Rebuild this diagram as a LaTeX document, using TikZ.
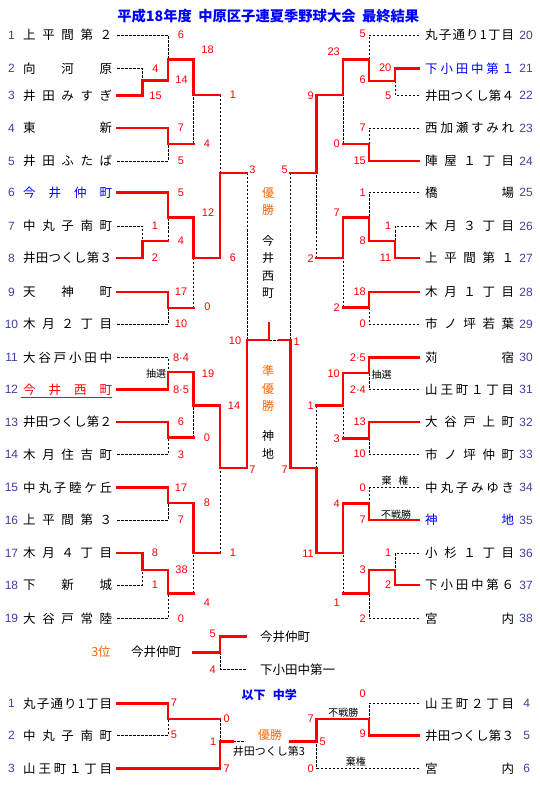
\documentclass[tikz,border=0pt]{standalone}
\usepackage{fontspec}
\setmainfont{Noto Sans CJK JP}
\newfontfamily\numfont{Liberation Sans}
\usetikzlibrary{positioning}
\definecolor{xRed}{RGB}{255,0,0}
\definecolor{xBlue}{RGB}{0,0,255}
\definecolor{xOrange}{RGB}{255,102,0}
\definecolor{xSlate}{RGB}{64,64,160}
\makeatletter
\def\team@rest#1{\ifx#1\relax\else\hfil#1\expandafter\team@rest\fi}
\def\team@first#1{#1\team@rest}
\newcommand\spreadname[1]{\hbox to 89pt{\team@first#1\relax}}
\makeatother
\tikzset{
  teamL/.style={anchor=west, inner xsep=5pt, inner ysep=0pt, text height=10.7pt, text depth=1.3pt,
                font=\fontsize{12.5}{14}\selectfont},
  teamR/.style={teamL, inner xsep=6pt},
  seed/.style={font=\numfont\fontsize{12}{14}\selectfont, text=xSlate, inner sep=0pt},
  pts/.style={font=\numfont\fontsize{11}{13}\selectfont, text=xRed, inner sep=0pt},
  ptsR/.style={pts, anchor=east},
  remark/.style={font=\fontsize{10}{12}\selectfont, inner sep=0pt},
  caption/.style={font=\fontsize{12.5}{14}\selectfont, inner sep=0pt},
  vtext/.style={align=center, font=\fontsize{12}{17.5}\selectfont, inner sep=0pt},
  win/.style={xRed, line width=2.9pt, line cap=rect},
  lose/.style={black, line width=0.9pt, dash pattern=on 2.5pt off 1.5pt},
}

\begin{document}
\begin{tikzpicture}[x=1pt, y=-1pt]
  \fill[white] (0,0) rectangle (540,786);
  \useasboundingbox (0,0) rectangle (540,786);
  \node[font=\bfseries\fontsize{14.3}{16}\selectfont, text=xBlue, inner sep=0pt] (title) at (268.3,16)
    {平成18年度\hspace{0.45em}中原区子連夏季野球大会\hspace{0.45em}最終結果};

  % left half
  \node[teamL] (L1)  at (18,35)    {\spreadname{上平間第２}};      \node[seed] (s1)  at (11.5,35)    {1};
  \node[teamL] (L2)  at (18,68.5)  {\spreadname{向河原}};          \node[seed] (s2)  at (11.5,68.5)  {2};
  \node[teamL] (L3)  at (18,95.5)  {\spreadname{井田みすぎ}};      \node[seed] (s3)  at (11.5,95.5)  {3};
  \node[teamL] (L4)  at (18,128)   {\spreadname{東新}};            \node[seed] (s4)  at (11.5,128)   {4};
  \node[teamL] (L5)  at (18,161)   {\spreadname{井田ふたば}};      \node[seed] (s5)  at (11.5,161)   {5};
  \node[teamL, text=xBlue] (L6) at (18,192.5) {\spreadname{今井仲町}}; \node[seed] (s6) at (11.5,192.5) {6};
  \node[teamL] (L7)  at (18,226)   {\spreadname{中丸子南町}};      \node[seed] (s7)  at (11.5,226)   {7};
  \node[teamL] (L8)  at (18,258)   {\spreadname{井田つくし第３}};  \node[seed] (s8)  at (11.5,258)   {8};
  \node[teamL] (L9)  at (18,292)   {\spreadname{天神町}};          \node[seed] (s9)  at (11.5,292)   {9};
  \node[teamL] (L10) at (18,324)   {\spreadname{木月２丁目}};      \node[seed] (s10) at (11.5,324)   {10};
  \node[teamL] (L11) at (18,357.5) {\spreadname{大谷戸小田中}};    \node[seed] (s11) at (11.5,357.5) {11};
  \node[teamL, text=xRed] (L12) at (18,389.5) {\spreadname{今井西町}}; \node[seed] (s12) at (11.5,389.5) {12};
  \node[teamL] (L13) at (18,422)   {\spreadname{井田つくし第２}};  \node[seed] (s13) at (11.5,422)   {13};
  \node[teamL] (L14) at (18,454.5) {\spreadname{木月住吉町}};      \node[seed] (s14) at (11.5,454.5) {14};
  \node[teamL] (L15) at (18,487.5) {\spreadname{中丸子睦ケ丘}};    \node[seed] (s15) at (11.5,487.5) {15};
  \node[teamL] (L16) at (18,520)   {\spreadname{上平間第３}};      \node[seed] (s16) at (11.5,520)   {16};
  \node[teamL] (L17) at (18,553)   {\spreadname{木月４丁目}};      \node[seed] (s17) at (11.5,553)   {17};
  \node[teamL] (L18) at (18,585)   {\spreadname{下新城}};          \node[seed] (s18) at (11.5,585)   {18};
  \node[teamL] (L19) at (18,618.5) {\spreadname{大谷戸常陸}};      \node[seed] (s19) at (11.5,618.5) {19};
  \draw[xRed, line width=0.9pt] ([xshift=2.7pt,yshift=-2pt]L12.south west) -- ([xshift=-5pt,yshift=-2pt]L12.south east);

  % right half
  \node[teamR] (R20) at (419,35)    {\spreadname{丸子通り1丁目}};  \node[seed] (s20) at (526,35)    {20};
  \node[teamR, text=xBlue] (R21) at (419,68.5) {\spreadname{下小田中第１}}; \node[seed] (s21) at (526,68.5) {21};
  \node[teamR] (R22) at (419,95.5)  {\spreadname{井田つくし第４}};  \node[seed] (s22) at (526,95.5)  {22};
  \node[teamR] (R23) at (419,128)   {\spreadname{西加瀬すみれ}};    \node[seed] (s23) at (526,128)   {23};
  \node[teamR] (R24) at (419,161)   {\spreadname{陣屋１丁目}};      \node[seed] (s24) at (526,161)   {24};
  \node[teamR] (R25) at (419,192.5) {\spreadname{橋場}};            \node[seed] (s25) at (526,192.5) {25};
  \node[teamR] (R26) at (419,226)   {\spreadname{木月３丁目}};      \node[seed] (s26) at (526,226)   {26};
  \node[teamR] (R27) at (419,258)   {\spreadname{上平間第１}};      \node[seed] (s27) at (526,258)   {27};
  \node[teamR] (R28) at (419,292)   {\spreadname{木月１丁目}};      \node[seed] (s28) at (526,292)   {28};
  \node[teamR] (R29) at (419,324)   {\spreadname{市ノ坪若葉}};      \node[seed] (s29) at (526,324)   {29};
  \node[teamR] (R30) at (419,357.5) {\spreadname{苅宿}};            \node[seed] (s30) at (526,357.5) {30};
  \node[teamR] (R31) at (419,389.5) {\spreadname{山王町１丁目}};    \node[seed] (s31) at (526,389.5) {31};
  \node[teamR] (R32) at (419,422)   {\spreadname{大谷戸上町}};      \node[seed] (s32) at (526,422)   {32};
  \node[teamR] (R33) at (419,454.5) {\spreadname{市ノ坪仲町}};      \node[seed] (s33) at (526,454.5) {33};
  \node[teamR] (R34) at (419,487.5) {\spreadname{中丸子みゆき}};    \node[seed] (s34) at (526,487.5) {34};
  \node[teamR, text=xBlue] (R35) at (419,520) {\spreadname{神地}};  \node[seed] (s35) at (526,520) {35};
  \node[teamR] (R36) at (419,553)   {\spreadname{小杉１丁目}};      \node[seed] (s36) at (526,553)   {36};
  \node[teamR] (R37) at (419,585)   {\spreadname{下小田中第６}};    \node[seed] (s37) at (526,585)   {37};
  \node[teamR] (R38) at (419,618.5) {\spreadname{宮内}};            \node[seed] (s38) at (526,618.5) {38};

  % match points, left
  \coordinate (a23) at (142.7,80.3);   \coordinate (a13) at (168,59.3);
  \coordinate (a45) at (168,144);      \coordinate (a15) at (193.7,95);
  \coordinate (a78) at (142.7,241);    \coordinate (a68) at (168,217.7);
  \coordinate (a910) at (168,308);     \coordinate (a610) at (193.7,258);
  \coordinate (a110) at (220,173);
  \coordinate (a1112) at (168,372);    \coordinate (a1314) at (168,437.7);
  \coordinate (a1114) at (193.7,405.7);
  \coordinate (a1516) at (168,503);    \coordinate (a1718) at (142.7,570);
  \coordinate (a1719) at (168,593.3);  \coordinate (a1519) at (193.7,553);
  \coordinate (a1119) at (220,468);    \coordinate (aL) at (247,340);
  % match points, right
  \coordinate (b2122) at (395,81);     \coordinate (b2022) at (369,59.3);
  \coordinate (b2324) at (369,144);    \coordinate (b2024) at (343,95);
  \coordinate (b2627) at (395,241);    \coordinate (b2527) at (369,217.7);
  \coordinate (b2829) at (369,307.3);  \coordinate (b2529) at (343,258);
  \coordinate (b2029) at (316.7,173);
  \coordinate (b3031) at (369,373);    \coordinate (b3233) at (369,438.3);
  \coordinate (b3033) at (343,405.7);
  \coordinate (b3435) at (369,503.3);  \coordinate (b3637) at (395,570);
  \coordinate (b3638) at (369,593.3);  \coordinate (b3438) at (343,553);
  \coordinate (b3038) at (316.7,468);  \coordinate (bR) at (290.7,340);
  % final
  \coordinate (fk) at (269,340);  \coordinate (fkt) at (269,323);  \coordinate (fr) at (279,340);

  % dashed: eliminated
  \draw[lose] (L1.east) -| (a13);   \draw[lose] (L2.east) -| (a23);
  \draw[lose] (L5.east) -| (a45);   \draw[lose] (L7.east) -| (a78);
  \draw[lose] (L10.east) -| (a910); \draw[lose] (L11.east) -| (a1112);
  \draw[lose] (L14.east) -| (a1314); \draw[lose] (L16.east) -| (a1516);
  \draw[lose] (L18.east) -| (a1718); \draw[lose] (L19.east) -| (a1719);
  \draw[lose] (a45 -| a15) -- (a15);     \draw[lose] (a78 -| a68) -- (a68);
  \draw[lose] (a910 -| a610) -- (a610);  \draw[lose] (a15 -| a110) -- (a110);
  \draw[lose] (a1314 -| a1114) -- (a1114); \draw[lose] (a1719 -| a1519) -- (a1519);
  \draw[lose] (a1519 -| a1119) -- (a1119); \draw[lose] (a110 -| aL) -- (aL);
  \draw[lose] (R20.west) -| (b2022); \draw[lose] (R22.west) -| (b2122);
  \draw[lose] (R23.west) -| (b2324); \draw[lose] (R25.west) -| (b2527);
  \draw[lose] (R26.west) -| (b2627); \draw[lose] (R29.west) -| (b2829);
  \draw[lose] (R31.west) -| (b3031); \draw[lose] (R33.west) -| (b3233);
  \draw[lose] (R34.west) -| (b3435); \draw[lose] (R36.west) -| (b3637);
  \draw[lose] (R38.west) -| (b3638);
  \draw[lose] (b2324 -| b2024) -- (b2024); \draw[lose] (b2829 -| b2529) -- (b2529);
  \draw[lose] (b2529 -| b2029) -- (b2029); \draw[lose] (b3233 -| b3033) -- (b3033);
  \draw[lose] (b3638 -| b3438) -- (b3438); \draw[lose] (b3033 -| b3038) -- (b3038);
  \draw[lose] (b2029 -| bR) -- (bR);
  \draw[lose] (fk) -- (fr);

  % red: winners
  \draw[win] (L3.east) -| (a23);   \draw[win] (L4.east) -| (a45);
  \draw[win] (L6.east) -| (a68);   \draw[win] (L8.east) -| (a78);
  \draw[win] (L9.east) -| (a910);  \draw[win] (L12.east) -| (a1112);
  \draw[win] (L13.east) -| (a1314); \draw[win] (L15.east) -| (a1516);
  \draw[win] (L17.east) -| (a1718);
  \draw[win] (a23) -| (a13);   \draw[win] (a13) -| (a15);
  \draw[win] (a68) -| (a610);  \draw[win] (a610) -| (a110);
  \draw[win] (a1112) -| (a1114); \draw[win] (a1114) -| (a1119);
  \draw[win] (a1516) -| (a1519); \draw[win] (a1718) -| (a1719);
  \draw[win] (a1119) -| (aL);
  \draw[win] (a45) -- (a45 -| a15);     \draw[win] (a78) -- (a78 -| a68);
  \draw[win] (a910) -- (a910 -| a610);  \draw[win] (a15) -- (a15 -| a110);
  \draw[win] (a1314) -- (a1314 -| a1114); \draw[win] (a1719) -- (a1719 -| a1519);
  \draw[win] (a1519) -- (a1519 -| a1119); \draw[win] (a110) -- (a110 -| aL);
  \draw[win] (R21.west) -| (b2122); \draw[win] (R24.west) -| (b2324);
  \draw[win] (R27.west) -| (b2627); \draw[win] (R28.west) -| (b2829);
  \draw[win] (R30.west) -| (b3031); \draw[win] (R32.west) -| (b3233);
  \draw[win] (R35.west) -| (b3435); \draw[win] (R37.west) -| (b3637);
  \draw[win] (b2122) -| (b2022); \draw[win] (b2022) -| (b2024);
  \draw[win] (b2024) -| (b2029); \draw[win] (b2627) -| (b2527);
  \draw[win] (b2527) -| (b2529); \draw[win] (b3031) -| (b3033);
  \draw[win] (b3435) -| (b3438); \draw[win] (b3637) -| (b3638);
  \draw[win] (b3438) -| (b3038); \draw[win] (b3038) -| (bR);
  \draw[win] (b2324) -- (b2324 -| b2024); \draw[win] (b2829) -- (b2829 -| b2529);
  \draw[win] (b2529) -- (b2529 -| b2029); \draw[win] (b3233) -- (b3233 -| b3033);
  \draw[win] (b3638) -- (b3638 -| b3438); \draw[win] (b3033) -- (b3033 -| b3038);
  \draw[win] (b2029) -- (b2029 -| bR);
  \draw[win] (aL) -- (fk) -- (fkt);
  \draw[win] (bR) -- (fr);

  % scores
  \foreach \x/\y/\t [count=\i] in {181/35/6, 207.5/50/18, 155.5/68.5/4, 181.5/80/14, 155.5/95.5/15,
      233/95/1, 181/128/7, 207/143.5/4, 181/161/5, 252.5/170/3, 181/192.5/5, 208/213/12,
      155/226/1, 181/241/4, 155/258/2, 233/258/6, 181/292/17, 207.5/307/0, 181/324/10,
      235/340.5/10, 181/357.5/8·4, 208/373.5/19, 181/389.5/8·5, 234/405.5/14, 181/421.5/6,
      207/437.5/0, 181/454.5/3, 252.5/470/7, 181/487.5/17, 207/503/8, 181/520/7, 155/553/8,
      233/553/1, 181.5/570/38, 155/585/1, 207/602.5/4, 181/618.5/0, 296.7/342/1,
      212.7/633.3/5, 212.7/670/4, 174/702.3/7, 174/735/5, 226.7/719/0, 226.7/768.3/7,
      213.3/741.7/1, 322.7/741.7/5}
    \node[pts] (p\i) at (\x,\y) {\t};
  \foreach \x/\y/\t [count=\i] in {391.5/68/20, 391.5/95.5/5, 391.5/226/1, 391.5/257.5/11,
      391.5/553/1, 391.5/585/2, 366/34/5, 366/80/6, 366/128/7, 366/161/15, 366/192.5/1,
      366/241/8, 366/292/18, 366/323.5/0, 366/357.5/2·5, 366/389.5/2·4, 366/421.5/13,
      366/454/10, 366/487.5/0, 366/519.5/7, 366/570/3, 366/618.5/2, 340/51.5/23, 340/144/0,
      340/213/7, 340/307.3/2, 340/374/10, 340/438.3/3, 340/503.3/4, 340/602.7/1,
      314/95.7/9, 314/259/2, 314/406/1, 314/553.3/11, 288/170/5, 288/470/7,
      366/693.3/0, 366/733.3/9, 314/718.3/7, 314/769/0}
    \node[ptsR] (q\i) at (\x,\y) {\t};
  \node[remark] (lotL) at (156,373.5) {抽選};
  \node[remark] (lotR) at (381.7,374.3) {抽選};
  \node[remark] (forfeit) at (395,481) {棄\hspace{0.7em}権};
  \node[remark] (walkover) at (396,514.3) {不戦勝};

  % champion and runner-up
  \node[vtext, text=xOrange] (champ) at (268,201.5) {優\\勝};
  \node[vtext] (champteam) at (268,267) {今\\井\\西\\町};
  \node[vtext, text=xOrange] (second) at (268,388.5) {準\\優\\勝};
  \node[vtext] (secondteam) at (268,445) {神\\地};

  % third place
  \node[caption, text=xOrange] (third) at (101,652) {3位};
  \node[caption] (thirdteam) at (156,652) {今井仲町};
  \coordinate (t3s) at (193.7,652.3);  \coordinate (t3j) at (220,652.3);
  \coordinate (t3a) at (246,636.7);    \coordinate (t3b) at (246,669.3);
  \node[caption, anchor=west] (t3win) at (260,636.7) {今井仲町};
  \node[caption, anchor=west] (t3lose) at (260,669.3) {下小田中第一};
  \draw[lose] (t3j) |- (t3b);
  \draw[win] (t3s) -- (t3j) |- (t3a);

  % junior high
  \node[caption, font=\bfseries\fontsize{12}{14}\selectfont, text=xBlue] (jhs) at (269.2,694.5) {以下\hspace{0.6em}中学};
  \node[teamL] (M1) at (18,703.3) {\spreadname{丸子通り1丁目}};  \node[seed] (m1) at (11.5,703.3) {1};
  \node[teamL] (M2) at (18,735.7) {\spreadname{中丸子南町}};     \node[seed] (m2) at (11.5,735.7) {2};
  \node[teamL] (M3) at (18,768.3) {\spreadname{山王町１丁目}};   \node[seed] (m3) at (11.5,768.3) {3};
  \node[teamR] (N4) at (419,703.3) {\spreadname{山王町２丁目}};  \node[seed] (m4) at (526.7,703.3) {4};
  \node[teamR] (N5) at (419,735.7) {\spreadname{井田つくし第３}}; \node[seed] (m5) at (526.7,735.7) {5};
  \node[teamR] (N6) at (419,768.3) {\spreadname{宮内}};          \node[seed] (m6) at (526.7,768.3) {6};
  \coordinate (m12) at (168,719);   \coordinate (m13) at (220,741.7);
  \coordinate (n45) at (369,719);   \coordinate (n46) at (316.7,741.7);
  \coordinate (mf1) at (233,741.7); \coordinate (mf2) at (245,741.7); \coordinate (mf3) at (290,741.7);
  \draw[lose] (M2.east) -| (m12);  \draw[lose] (m12 -| m13) -- (m13);
  \draw[lose] (mf1) -- (mf2);
  \draw[lose] (N4.west) -| (n45);  \draw[lose] (N6.west) -| (n46);
  \draw[win] (M1.east) -| (m12);   \draw[win] (m12) -- (m12 -| m13);
  \draw[win] (M3.east) -| (m13);   \draw[win] (m13) -- (mf1);
  \draw[win] (N5.west) -| (n45);   \draw[win] (n45) -| (n46);
  \draw[win] (n46) -- (mf3);
  \node[remark] (walkover2) at (343.3,712.7) {不戦勝};
  \node[remark] (forfeit2) at (355.8,761.7) {棄権};
  \node[caption, font=\fontsize{12}{14}\selectfont, text=xOrange] (jchamp) at (270,734.5) {優勝};
  \node[caption, font=\fontsize{11}{13}\selectfont] (jchampteam) at (269,751.7) {井田つくし第3};
\end{tikzpicture}
\end{document}
